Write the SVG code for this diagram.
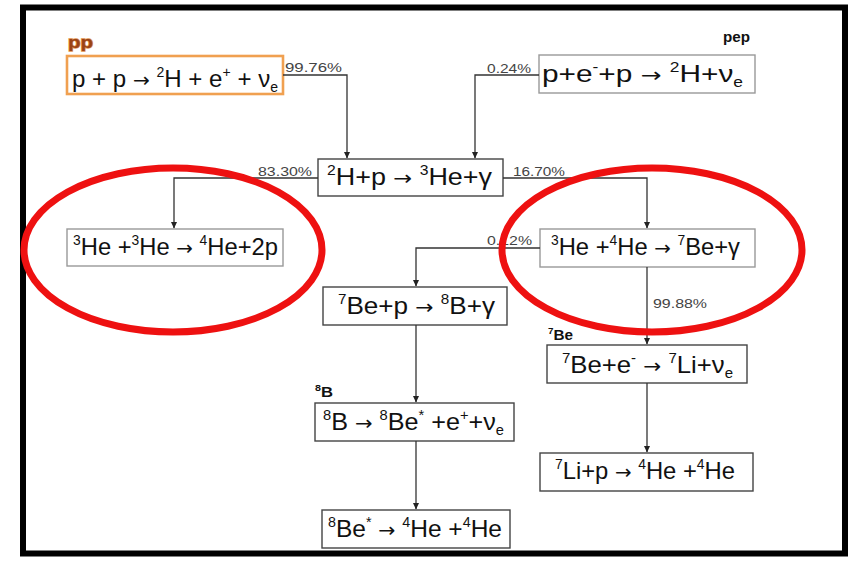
<svg xmlns="http://www.w3.org/2000/svg" width="850" height="562" viewBox="0 0 850 562">
<style>
.box{fill:#fff;stroke:#444;stroke-width:1.4}
.lbox{fill:#fff;stroke:#999;stroke-width:1.4}
.pbox{fill:#fff;stroke:#f0a050;stroke-width:2.6}
.eq{font-family:"Liberation Sans",Arial,sans-serif;font-size:24px;fill:#111}
.s{font-size:14px}
.ar{font-family:"DejaVu Sans",sans-serif;font-size:20px}
.pct{font-family:"Liberation Sans",Arial,sans-serif;font-size:12px;fill:#444}
.tag{font-family:"Liberation Sans",Arial,sans-serif;font-weight:bold;font-size:14px;fill:#111}
.con{fill:none;stroke:#333;stroke-width:1.3}
.ring{fill:none;stroke:#ee1111;stroke-width:7}
</style>
<defs>
<marker id="ah" markerUnits="userSpaceOnUse" markerWidth="8" markerHeight="8" refX="6" refY="3.5" orient="auto">
<path d="M0,0.5 L6.5,3.5 L0,6.5 Z" fill="#222"/>
</marker>
</defs>
<rect x="0" y="0" width="850" height="562" fill="#fff"/>
<rect x="23" y="7.5" width="822" height="546" fill="#fff" stroke="#000" stroke-width="6"/>

<g id="pp">
<text x="68" y="48" textLength="25" lengthAdjust="spacingAndGlyphs" font-family="Liberation Sans, Arial, sans-serif" font-weight="bold" font-size="17" fill="#9a4216" style="paint-order:stroke" stroke="#e0904a" stroke-width="1.4">pp</text>
<rect class="pbox" x="67" y="56" width="216" height="38"/>
<text class="eq" x="72" y="87" textLength="206" lengthAdjust="spacingAndGlyphs">p + p <tspan class="ar">→</tspan> <tspan class="s" dy="-10">2</tspan><tspan dy="10">H  + e</tspan><tspan class="s" dy="-10">+</tspan><tspan dy="10"> + ν</tspan><tspan class="s" dy="5">e</tspan></text>
</g>

<g id="pep">
<text class="tag" x="723" y="42" textLength="27" lengthAdjust="spacingAndGlyphs">pep</text>
<rect class="lbox" x="539" y="55" width="216" height="38"/>
<text class="eq" x="542" y="82" textLength="201" lengthAdjust="spacingAndGlyphs">p+e<tspan class="s" dy="-10">-</tspan><tspan dy="10">+p  </tspan><tspan class="ar">→</tspan> <tspan class="s" dy="-10">2</tspan><tspan dy="10">H+ν</tspan><tspan class="s" dy="5">e</tspan></text>
</g>

<g id="h2p">
<rect class="box" x="318" y="159" width="185" height="37"/>
<text class="eq" x="327" y="185" textLength="165" lengthAdjust="spacingAndGlyphs"><tspan class="s" dy="-10">2</tspan><tspan dy="10">H+p </tspan><tspan class="ar">→</tspan> <tspan class="s" dy="-10">3</tspan><tspan dy="10">He+γ</tspan></text>
</g>

<g id="he3he3">
<rect class="lbox" x="67" y="229" width="216" height="37"/>
<text class="eq" x="73" y="255" textLength="205" lengthAdjust="spacingAndGlyphs"><tspan class="s" dy="-10">3</tspan><tspan dy="10">He +</tspan><tspan class="s" dy="-10">3</tspan><tspan dy="10">He </tspan><tspan class="ar">→</tspan> <tspan class="s" dy="-10">4</tspan><tspan dy="10">He+2p</tspan></text>
</g>

<g id="he3he4">
<rect class="lbox" x="540" y="229" width="215" height="38"/>
<text class="eq" x="551" y="255" textLength="189" lengthAdjust="spacingAndGlyphs"><tspan class="s" dy="-10">3</tspan><tspan dy="10">He +</tspan><tspan class="s" dy="-10">4</tspan><tspan dy="10">He </tspan><tspan class="ar">→</tspan> <tspan class="s" dy="-10">7</tspan><tspan dy="10">Be+γ</tspan></text>
</g>

<g id="be7p">
<rect class="box" x="323" y="287" width="184" height="38"/>
<text class="eq" x="338" y="314" textLength="157" lengthAdjust="spacingAndGlyphs"><tspan class="s" dy="-10">7</tspan><tspan dy="10">Be+p </tspan><tspan class="ar">→</tspan> <tspan class="s" dy="-10">8</tspan><tspan dy="10">B+γ</tspan></text>
</g>

<g id="b8">
<text class="tag" x="315" y="397" textLength="18" lengthAdjust="spacingAndGlyphs"><tspan font-size="9" dy="-6">8</tspan><tspan dy="6">B</tspan></text>
<rect class="box" x="315" y="403" width="199" height="38"/>
<text class="eq" x="323" y="430" textLength="181" lengthAdjust="spacingAndGlyphs"><tspan class="s" dy="-10">8</tspan><tspan dy="10">B </tspan><tspan class="ar">→</tspan> <tspan class="s" dy="-10">8</tspan><tspan dy="10">Be</tspan><tspan class="s" dy="-10">*</tspan><tspan dy="10"> +e</tspan><tspan class="s" dy="-10">+</tspan><tspan dy="10">+ν</tspan><tspan class="s" dy="5">e</tspan></text>
</g>

<g id="be8">
<rect class="box" x="322" y="510" width="188" height="38"/>
<text class="eq" x="328" y="537" textLength="174" lengthAdjust="spacingAndGlyphs"><tspan class="s" dy="-10">8</tspan><tspan dy="10">Be</tspan><tspan class="s" dy="-10">*</tspan><tspan dy="10"> </tspan><tspan class="ar">→</tspan> <tspan class="s" dy="-10">4</tspan><tspan dy="10">He +</tspan><tspan class="s" dy="-10">4</tspan><tspan dy="10">He</tspan></text>
</g>

<g id="be7e">
<text class="tag" x="548" y="340" textLength="25" lengthAdjust="spacingAndGlyphs"><tspan font-size="9" dy="-6">7</tspan><tspan dy="6">Be</tspan></text>
<rect class="box" x="547" y="345" width="200" height="38"/>
<text class="eq" x="562" y="373" textLength="171" lengthAdjust="spacingAndGlyphs"><tspan class="s" dy="-10">7</tspan><tspan dy="10">Be+e</tspan><tspan class="s" dy="-10">-</tspan><tspan dy="10"> </tspan><tspan class="ar">→</tspan> <tspan class="s" dy="-10">7</tspan><tspan dy="10">Li+ν</tspan><tspan class="s" dy="5">e</tspan></text>
</g>

<g id="li7p">
<rect class="box" x="540" y="453" width="213" height="38"/>
<text class="eq" x="555" y="479" textLength="180" lengthAdjust="spacingAndGlyphs"><tspan class="s" dy="-10">7</tspan><tspan dy="10">Li+p </tspan><tspan class="ar">→</tspan> <tspan class="s" dy="-10">4</tspan><tspan dy="10">He +</tspan><tspan class="s" dy="-10">4</tspan><tspan dy="10">He</tspan></text>
</g>

<g id="connectors">
<path class="con" d="M283,75 H347 V158" marker-end="url(#ah)"/>
<path class="con" d="M539,75 H475 V158" marker-end="url(#ah)"/>
<path class="con" d="M318,178 H174 V228" marker-end="url(#ah)"/>
<path class="con" d="M503,178 H647 V228" marker-end="url(#ah)"/>
<path class="con" d="M540,248 H416 V286" marker-end="url(#ah)"/>
<path class="con" d="M647,267 V344" marker-end="url(#ah)"/>
<path class="con" d="M416,325 V402" marker-end="url(#ah)"/>
<path class="con" d="M416,441 V509" marker-end="url(#ah)"/>
<path class="con" d="M647,383 V452" marker-end="url(#ah)"/>
<text class="pct" x="285" y="72" textLength="57" lengthAdjust="spacingAndGlyphs">99.76%</text>
<text class="pct" x="487" y="73" textLength="44" lengthAdjust="spacingAndGlyphs">0.24%</text>
<text class="pct" x="258" y="176" textLength="54" lengthAdjust="spacingAndGlyphs">83.30%</text>
<text class="pct" x="513" y="176" textLength="52" lengthAdjust="spacingAndGlyphs">16.70%</text>
<text class="pct" x="487" y="245" textLength="45" lengthAdjust="spacingAndGlyphs">0.12%</text>
<text class="pct" x="653" y="308" textLength="54" lengthAdjust="spacingAndGlyphs">99.88%</text>
</g>

<ellipse class="ring" cx="173" cy="250" rx="149" ry="82"/>
<ellipse class="ring" cx="652" cy="250" rx="150" ry="82"/>
</svg>
